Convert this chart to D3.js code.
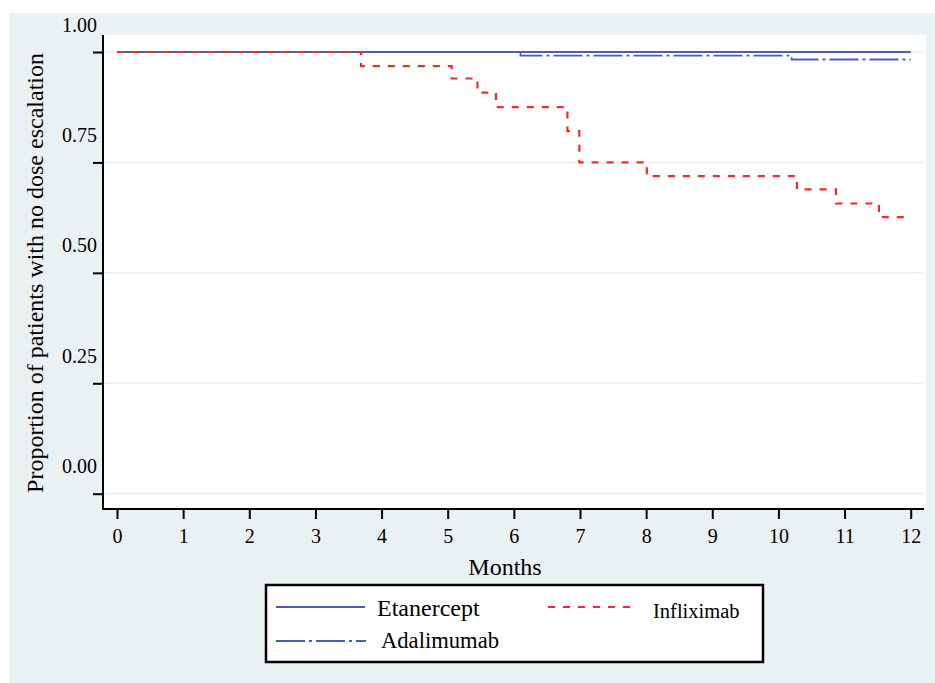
<!DOCTYPE html>
<html>
<head>
<meta charset="utf-8">
<script src="https://cdn.jsdelivr.net/npm/d3@7"></script>
<style>
  body { margin: 0; background: #fff; }
  text { font-family: "Liberation Serif", "Times New Roman", Times, serif; fill: #000; }
</style>
</head>
<body>
<div id="chart"></div>
<script>
// Kaplan-Meier style step data
const monthTicks = [0, 1, 2, 3, 4, 5, 6, 7, 8, 9, 10, 11, 12];
const yTicks = [0, 0.25, 0.5, 0.75, 1];

const etanerceptTime = [0, 12];
const etanerceptVal = [1, 1];

const adalimumabTime = [0, 6.1, 10.2, 12];
const adalimumabVal = [1, 0.992, 0.983, 0.983];

const infliximabTime = [0, 3.69, 5.06, 5.45, 5.73, 6.81, 6.99, 8.01, 10.28, 10.87, 11.52, 12];
const infliximabVal = [1, 0.968, 0.940, 0.908, 0.875, 0.821, 0.750, 0.719, 0.689, 0.657, 0.626, 0.626];

const W = 935, H = 683;
const blue = "#4a5fae", red = "#ee2b30";

const svg = d3.select("#chart").append("svg")
  .attr("width", W).attr("height", H);

// outer panel + plot region
svg.append("rect").attr("x", 9).attr("y", 13).attr("width", W - 9).attr("height", H - 13)
  .attr("fill", "#eaf1f3");
svg.append("rect").attr("x", 103).attr("y", 35).attr("width", 823).attr("height", 474)
  .attr("fill", "#fff");

const x = d3.scaleLinear().domain([0, 12]).range([117, 910.7]);
const y = d3.scaleLinear().domain([0, 1]).range([493.7, 52]);

// gridlines
svg.append("g").selectAll("line").data(yTicks).enter().append("line")
  .attr("x1", 103).attr("x2", 924)
  .attr("y1", d => y(d)).attr("y2", d => y(d))
  .attr("stroke", "#e8eff2").attr("stroke-width", 1.5);

// y axis
const yAxis = svg.append("g").attr("transform", "translate(103,0)")
  .call(d3.axisLeft(y).tickValues(yTicks).tickSize(10).tickFormat(d3.format(".2f")));
yAxis.attr("font-family", null);
yAxis.select(".domain").remove();
yAxis.selectAll(".tick line").attr("stroke", "#000").attr("stroke-width", 2);
yAxis.selectAll(".tick text")
  .attr("x", -6).attr("dy", null).attr("y", -21)
  .style("font-size", "20px");

// x axis
const xAxis = svg.append("g").attr("transform", "translate(0,509)")
  .call(d3.axisBottom(x).tickValues(monthTicks).tickSize(10).tickFormat(d3.format("d")));
xAxis.attr("font-family", null);
xAxis.select(".domain").remove();
xAxis.selectAll(".tick line").attr("stroke", "#000").attr("stroke-width", 2);
xAxis.selectAll(".tick text")
  .attr("y", 34).attr("dy", null)
  .style("font-size", "20px");

// axis lines
svg.append("line").attr("x1", 103).attr("x2", 103).attr("y1", 35).attr("y2", 510)
  .attr("stroke", "#000").attr("stroke-width", 2);
svg.append("line").attr("x1", 102).attr("x2", 924).attr("y1", 509).attr("y2", 509)
  .attr("stroke", "#000").attr("stroke-width", 2);

// titles
svg.append("text").attr("x", 505).attr("y", 575).attr("text-anchor", "middle")
  .style("font-size", "24px").text("Months");
svg.append("text").attr("transform", "translate(43,273) rotate(-90)")
  .attr("text-anchor", "middle").style("font-size", "24px")
  .text("Proportion of patients with no dose escalation");

// curves
const step = d3.line().x(d => x(d[0])).y(d => y(d[1])).curve(d3.curveStepAfter);

const series = [
  { name: "Adalimumab", t: adalimumabTime, v: adalimumabVal, color: blue, dash: "29,4,3,4", w: 1.8 },
  { name: "Etanercept", t: etanerceptTime, v: etanerceptVal, color: blue, dash: null, w: 2.2 },
  { name: "Infliximab", t: infliximabTime, v: infliximabVal, color: red, dash: "7,8", w: 2.2 }
];

series.forEach(s => {
  svg.append("path")
    .datum(s.t.map((t, i) => [t, s.v[i]]))
    .attr("d", step)
    .attr("fill", "none")
    .attr("stroke", s.color)
    .attr("stroke-width", s.w)
    .attr("stroke-dasharray", s.dash);
});

// legend
const lg = svg.append("g");
lg.append("rect").attr("x", 266).attr("y", 585).attr("width", 497).attr("height", 77)
  .attr("fill", "#fff").attr("stroke", "#000").attr("stroke-width", 2.5);

const legendItems = [
  { s: series[1], x1: 276, x2: 365, ly: 607, tx: 377, ty: 616, fs: 24 },
  { s: series[0], x1: 276, x2: 366, ly: 641, tx: 381, ty: 648, fs: 22.6 },
  { s: series[2], x1: 548, x2: 631, ly: 607, tx: 653, ty: 618, fs: 20.5 }
];
legendItems.forEach(d => {
  lg.append("line").attr("x1", d.x1).attr("x2", d.x2).attr("y1", d.ly).attr("y2", d.ly)
    .attr("stroke", d.s.color).attr("stroke-width", d.s.w)
    .attr("stroke-dasharray", d.s.dash);
  lg.append("text").attr("x", d.tx).attr("y", d.ty)
    .style("font-size", d.fs + "px").text(d.s.name);
});
</script>
</body>
</html>
